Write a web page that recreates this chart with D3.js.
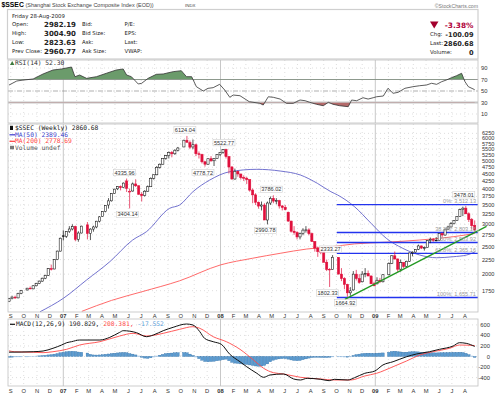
<!DOCTYPE html>
<html>
<head>
<meta charset="utf-8">
<script src="https://cdn.jsdelivr.net/npm/d3@7"></script>
<style>
body { margin: 0; background: #fff; }
svg { display: block; }
</style>
</head>
<body>
<svg id="chart" width="500" height="397"></svg>
<script>
// $SSEC weekly candles with MA, fib retracement, RSI(14) and MACD panels

const firstWeek = "2006-08-28";
const lastWeek = "2009-08-24";
// weeks with no trading (golden week / spring festival)
const closedWeeks = ["2006-10-02", "2007-02-19", "2007-10-01", "2008-09-29", "2009-01-26"];

// weekly open, high, low, close
const ohlc = [
  // 2006 Aug-Sep
  [1600,1650,1595,1640],[1640,1680,1630,1660],[1660,1680,1635,1650],[1650,1720,1645,1712],[1712,1760,1700,1752],
  // Oct
  [1760,1790,1750,1785],[1785,1810,1770,1775],[1775,1830,1770,1820],[1820,1865,1810,1855],
  // Nov
  [1855,1900,1845,1890],[1890,1945,1880,1935],[1935,1990,1920,1980],[1980,2100,1970,2090],
  // Dec
  [2090,2160,2060,2085],[2085,2260,2080,2250],[2250,2420,2240,2410],[2410,2690,2400,2675],
  // 2007 Jan
  [2728,2848,2630,2716],[2716,2830,2680,2821],[2821,2950,2790,2882],[2882,2995,2850,2940],[2940,2960,2610,2650],
  // Feb
  [2650,2830,2600,2790],[2790,2960,2780,2950],[2980,3050,2650,2780],
  // Mar
  [2780,2900,2635,2880],[2880,2960,2820,2930],[2930,3080,2900,3070],[3070,3200,3040,3180],
  // Apr
  [3190,3330,3180,3320],[3320,3500,3300,3490],[3500,3700,3400,3620],[3620,3850,3600,3840],[3840,3990,3830,3980],
  // May
  [3990,4070,3950,4060],[4060,4100,3940,4030],[4030,4200,4010,4180],[4255,4335.96,3890,4000],
  // Jun
  [3890,4000,3404.14,3913],[3920,4200,3900,4150],[4150,4311,4050,4090],[4090,4100,3800,3820],
  // Jul
  [3820,3880,3600,3780],[3780,3950,3750,3914],[3914,4100,3900,4058],[4058,4380,4050,4345],[4345,4480,4300,4471],
  // Aug
  [4471,4800,4450,4750],[4750,4900,4700,4870],[4870,5120,4860,5107],[5107,5250,5050,5218],
  // Sep
  [5218,5400,5100,5356],[5356,5420,5150,5300],[5300,5500,5250,5454],[5454,5600,5400,5552],
  // Oct
  [5600,5940,5590,5914],[5914,6124.04,5800,5818],[5800,5900,5500,5589],[5600,5950,5500,5700],
  // Nov
  [5700,5750,5200,5300],[5300,5400,5100,5270],[5270,5300,4900,4966],[4966,5000,4778.72,4871],
  // Dec
  [4871,5100,4850,5091],[5091,5200,4960,5007],[5007,5100,4800,5100],[5100,5270,5080,5262],[5265,5370,5200,5362],
  // 2008 Jan
  [5362,5500,5300,5485],[5485,5522.77,5100,5180],[5180,5200,4520,4761],[4761,4800,4300,4320],
  // Feb
  [4320,4700,4300,4600],[4600,4620,4400,4500],[4500,4500,4300,4370],[4370,4450,4250,4348],
  // Mar
  [4348,4400,4150,4300],[4300,4300,3900,3950],[3950,4000,3550,3800],[3800,3850,3500,3580],[3580,3600,3400,3470],
  // Apr
  [3470,3600,3350,3500],[3500,3550,3100,3100],[3100,3600,2990.78,3557],[3557,3750,3500,3693],
  // May
  [3693,3786.02,3550,3613],[3613,3700,3520,3624],[3624,3650,3400,3473],[3473,3500,3350,3433],
  // Jun
  [3433,3500,3350,3372],[3300,3320,3050,3074],[3074,3080,2800,2831],[2831,2950,2750,2802],[2802,2830,2650,2703],
  // Jul
  [2703,2800,2650,2780],[2780,2900,2740,2857],[2857,2950,2800,2861],[2861,2900,2740,2775],
  // Aug
  [2775,2800,2600,2605],[2605,2610,2400,2470],[2470,2500,2300,2400],[2400,2450,2350,2397],
  // Sep
  [2397,2400,2200,2202],[2202,2250,2050,2079],[2079,2100,1802.33,2075],[2075,2333.27,2070,2293],
  // Oct
  [2290,2290,2000,2000],[2000,2100,1890,1930],[1930,1950,1770,1840],[1840,1850,1664.92,1719],
  // Nov
  [1719,1800,1678,1747],[1760,2050,1750,2000],[2000,2070,1900,1930],[1930,2000,1850,1871],
  // Dec
  [1880,2050,1870,2000],[2000,2100,1950,2010],[2010,2060,1970,1970],[1970,1980,1850,1850],[1850,1880,1814,1820],
  // 2009 Jan
  [1849,1950,1840,1904],[1904,1940,1860,1880],[1880,2000,1870,1990],
  // Feb
  [1990,2200,1980,2180],[2180,2330,2170,2320],[2320,2402,2250,2261],[2261,2270,2037,2082],
  // Mar
  [2082,2250,2040,2195],[2195,2200,2100,2130],[2130,2230,2120,2220],[2220,2380,2210,2374],[2374,2405,2310,2390],
  // Apr
  [2390,2450,2380,2445],[2445,2540,2430,2513],[2513,2520,2450,2470],[2470,2500,2420,2477],
  // May
  [2480,2630,2480,2625],[2625,2690,2570,2650],[2650,2680,2600,2630],[2630,2700,2610,2632],
  // Jun
  [2632,2790,2630,2780],[2780,2800,2700,2745],[2745,2890,2730,2880],[2880,2960,2860,2930],[2930,3050,2920,3010],
  // Jul
  [3010,3100,2990,3090],[3090,3200,3080,3190],[3190,3400,3180,3372],[3372,3454,3200,3412],
  // Aug
  [3412,3478.01,3250,3260],[3260,3300,3050,3112],[3112,3150,2870,2960],[2970,3090,2823.63,2860.68]
];

const ma50 = [
  ["2006-11-08",1475],["2007-01-01",1644],["2007-02-24",1907],["2007-04-19",2212],["2007-06-11",2636],
  ["2007-07-13",2820],["2007-09-05",3408],["2007-09-28",3500],["2007-10-29",3898],["2007-12-07",4284],
  ["2008-01-23",4583],["2008-03-27",4673],["2008-05-21",4609],["2008-07-08",4462],["2008-08-17",4172],
  ["2008-09-18",3898],["2008-10-04",3795],["2008-11-13",3452],["2008-12-22",3018],["2009-01-27",2673],
  ["2009-03-07",2465],["2009-04-16",2335],["2009-05-26",2284],["2009-07-04",2303],["2009-08-05",2335],
  ["2009-08-24",2389.46]
];

const ma200 = [
  ["2007-02-13",1480],["2007-04-23",1617],["2007-07-03",1735],["2007-09-28",1895],["2008-01-01",2155],
  ["2008-03-17",2275],["2008-05-21",2367],["2008-07-23",2451],["2008-09-18",2495],["2008-11-13",2555],
  ["2009-01-27",2590],["2009-04-16",2636],["2009-07-04",2707],["2009-08-24",2778.69]
];

const rsi = [
  ["2006-08-28",60.4],["2006-09-15",67.4],["2006-09-30",69],["2006-10-23",70.9],["2006-11-15",79.6],
  ["2006-12-08",86.5],["2006-12-28",88.3],["2007-01-20",91.7],["2007-01-28",74.9],["2007-02-08",77.8],
  ["2007-02-24",72],["2007-03-19",74.9],["2007-04-11",80.8],["2007-05-04",86.5],["2007-05-20",88.3],
  ["2007-05-28",77.8],["2007-06-08",74.9],["2007-06-24",62.2],["2007-07-02",63.4],["2007-07-17",72.1],
  ["2007-08-05",79],["2007-08-21",79.6],["2007-09-13",83.6],["2007-10-02",85.3],["2007-10-14",74.9],
  ["2007-10-26",74.9],["2007-11-06",57.5],["2007-11-22",50],["2007-12-03",54.6],["2007-12-15",55.8],
  ["2007-12-30",61.6],["2008-01-11",51.7],["2008-01-23",39],["2008-01-31",43],["2008-02-16",41.8],
  ["2008-03-09",31.4],["2008-04-03",28.6],["2008-04-11",25.6],["2008-04-23",40],["2008-05-05",39],
  ["2008-05-21",36],["2008-06-05",28.6],["2008-06-21",28.6],["2008-07-07",34.3],["2008-07-19",33.1],
  ["2008-07-30",30.3],["2008-08-15",26.9],["2008-08-31",24.4],["2008-09-12",30.3],["2008-09-23",26.9],
  ["2008-10-09",24.4],["2008-10-29",22.7],["2008-11-06",34.3],["2008-11-18",33.1],["2008-12-03",38.3],
  ["2008-12-15",36],["2008-12-27",38.3],["2009-01-04",40],["2009-01-20",41.3],["2009-01-31",54.7],
  ["2009-02-12",46],["2009-02-24",47.7],["2009-03-12",54.7],["2009-03-31",57.5],["2009-04-16",59.2],
  ["2009-05-02",60.4],["2009-05-14",63.4],["2009-05-26",61.6],["2009-06-07",66.2],["2009-06-18",69.1],
  ["2009-06-30",73.1],["2009-07-12",76.6],["2009-07-24",80.8],["2009-08-01",66.2],["2009-08-09",57.5],
  ["2009-08-24",52.3]
];

const macdLine = [
  ["2006-08-28",82],["2006-10-23",91],["2006-11-15",104],["2006-12-08",156],["2006-12-28",218],
  ["2007-01-09",262],["2007-01-20",281],["2007-02-08",313],["2007-03-27",313],["2007-04-19",364],
  ["2007-05-12",459],["2007-05-20",490],["2007-06-20",452],["2007-07-13",376],["2007-07-29",408],
  ["2007-08-21",490],["2007-09-13",554],["2007-10-14",617],["2007-10-29",598],["2007-11-14",471],
  ["2007-11-25",345],["2007-12-15",281],["2008-01-03",231],["2008-01-23",42],["2008-02-16",-99],
  ["2008-03-03",-194],["2008-03-27",-319],["2008-04-12",-395],["2008-04-27",-351],["2008-05-29",-332],
  ["2008-06-22",-427],["2008-07-08",-446],["2008-07-24",-414],["2008-08-25",-433],["2008-09-14",-459],
  ["2008-09-26",-433],["2008-10-28",-446],["2008-11-13",-402],["2008-12-07",-319],["2008-12-31",-275],
  ["2009-01-19",-161],["2009-02-12",-99],["2009-03-16",-4],["2009-04-08",47],["2009-05-09",91],
  ["2009-06-02",137],["2009-07-04",199],["2009-07-19",262],["2009-08-04",250],["2009-08-24",190.829]
];

const signalLine = [
  ["2006-08-28",108],["2006-09-10",90],["2006-10-23",80],["2006-11-15",73],["2006-12-08",91],
  ["2007-01-09",137],["2007-02-08",218],["2007-03-27",281],["2007-05-12",389],["2007-06-12",440],
  ["2007-07-13",389],["2007-08-21",440],["2007-09-28",516],["2007-10-29",566],["2007-11-14",535],
  ["2007-12-15",376],["2008-01-15",281],["2008-02-16",137],["2008-03-19",-66],["2008-04-12",-224],
  ["2008-05-05",-307],["2008-05-29",-332],["2008-07-08",-395],["2008-08-25",-427],["2008-09-26",-446],
  ["2008-11-04",-446],["2008-12-07",-370],["2009-01-04",-319],["2009-02-12",-194],["2009-03-16",-85],
  ["2009-04-16",28],["2009-05-17",91],["2009-06-26",156],["2009-07-19",218],["2009-08-24",208.381]
];

// MACD histogram, one value per weekly bar
const macdHist = [
  -15,-12,-8,-5,-3, 0,3,5,8, 12,18,22,30, 35,45,55,70,
  80,90,98,100,95, 85,80,65, 40,30,28,30, 35,42,48,55,62, 68,72,75,70, 55,45,30,10,
  -15,-30,-35,-25,-10, 10,25,40,55, 62,65,70,72, 75,70,45,20, -10,-40,-70,-95, -100,-95,-90,-80,-70,
  -60,-50,-80,-110, -125,-130,-140,-145, -150,-160,-170,-180,-185, -180,-170,-140,-100, -70,-55,-45,-40,
  -40,-50,-65,-75,-80, -75,-60,-45,-30, -20,-15,-15,-18, -20,-20,-15,-5, -5,-8,-10,-12, -5,20,35,45,
  55,60,62,60,58,
  62,65,68, 80,95,100,90, 85,80,82,88,90, 90,88,82,78, 75,72,70,68, 70,72,72,74,76, 78,78,80,75,
  60,35,10,-17.552
];

// high / low call-outs on the price chart
const priceLabels = [
  ["2007-05-28",4335.96,"above"],["2007-06-04",3404.14,"below"],["2007-10-15",6124.04,"above"],
  ["2007-11-26",4778.72,"below"],["2008-01-14",5522.77,"above"],["2008-04-21",2990.78,"below"],
  ["2008-05-05",3786.02,"above"],["2008-09-15",1802.33,"below"],["2008-09-22",2333.27,"above"],
  ["2008-10-27",1664.92,"below"],["2009-08-03",3478.01,"high"]
];

const fibLevels = [
  ["0%: 3,512.13",3512.13],["38.2%: 2,803.16",2803.16],["50%: 2,583.92",2583.92],
  ["61.8%: 2,365.16",2365.16],["100%: 1,655.71",1655.71]
];
const fibStart = "2008-10-02";
const trendLine = [["2008-10-21",1631],["2009-09-21",2946]];

const priceTicks = [1750,2000,2250,2500,2750,3000,3250,3500,3750,4000,4250,4500,4750,5000,5250,5500,5750,6000,6250];
const rsiTicks = [10,30,50,70,90];
const macdTicks = [-400,-200,0,200,400,600];

const quoteRows = [
  ["Open:","2982.19","Bid:","P/E:"],
  ["High:","3004.90","Bid Size:","EPS:"],
  ["Low:","2823.63","Ask:","Last:"],
  ["Prev Close:","2960.77","Ask Size:","VWAP:"]
];
const changeRows = [["Chg:","-100.09"],["Last:","2860.68"],["Volume:","0"]];

// ---------------------------------------------------------------
const svg = d3.select("#chart");
const parse = d3.timeParse("%Y-%m-%d");
const fmt = d3.timeFormat("%Y-%m-%d");

const RED = "#e0103c";
const MONO = "'DejaVu Sans Mono', monospace";
const SANS = "'Liberation Sans', Arial, sans-serif";
const VERD = "'DejaVu Sans', Verdana, sans-serif";

const L = 8, R = 478;
const P = {top: 124, bottom: 312};
const RS = {top: 60, bottom: 123};
const MC = {top: 319, bottom: 386};

const x = d3.scaleTime()
  .domain([new Date(2007,0,1), new Date(2008,0,1), new Date(2009,0,1)])
  .range([63.3, 220.5, 375.3]);
const y = d3.scaleLog().domain([1472, 6744]).range([P.bottom, P.top]);
const yR = d3.scaleLinear().domain([0, 100]).range([119.75, 62.25]);
const yM = d3.scaleLinear().domain([-560, 712]).range([MC.bottom, MC.top]);

const closed = new Set(closedWeeks);
const weeks = d3.timeMonday.range(parse(firstWeek), d3.timeDay.offset(parse(lastWeek), 1))
  .filter(d => !closed.has(fmt(d)));
const n = Math.min(weeks.length, ohlc.length);
const bars = d3.range(n).map(i => ({date: weeks[i], o: ohlc[i][0], h: ohlc[i][1], l: ohlc[i][2], c: ohlc[i][3]}));

const defs = svg.append("defs");
function clip(id, x0, y0, x1, y1) {
  defs.append("clipPath").attr("id", id).append("rect")
    .attr("x", x0).attr("y", y0).attr("width", x1 - x0).attr("height", y1 - y0);
}
clip("cMain", L, P.top, R, P.bottom);
clip("cRsi", L, RS.top, R, RS.bottom);
clip("cRsiHi", L, RS.top, R, yR(70));
clip("cRsiLo", L, yR(30), R, RS.bottom);
clip("cMacd", L, MC.top, R, MC.bottom);

// ---------- header ----------
svg.append("text").attr("x", 1.5).attr("y", 7.2)
  .attr("font-family", SANS).attr("font-weight", "bold").attr("font-size", 6.8).text("$SSEC");
svg.append("text").attr("x", 25.5).attr("y", 7)
  .attr("font-family", SANS).attr("font-size", 5.5).attr("fill", "#444")
  .text("(Shanghai Stock Exchange Composite Index (EOD))");
svg.append("text").attr("x", 185).attr("y", 7)
  .attr("font-family", SANS).attr("font-size", 4.4).attr("fill", "#444").text("INDX");
svg.append("text").attr("x", 478).attr("y", 7.5).attr("text-anchor", "end")
  .attr("font-family", SANS).attr("font-size", 5.2).attr("fill", "#777").text("\u00a9StockCharts.com");

svg.append("rect").attr("x", 7.5).attr("y", 9.5).attr("width", 470.5).attr("height", 49.5)
  .attr("fill", "#fff").attr("stroke", "#cfcfcf").attr("stroke-width", 1.2);

svg.append("text").attr("x", 12).attr("y", 17.6)
  .attr("font-family", VERD).attr("font-size", 5.4).attr("fill", "#222").text("Friday  28-Aug-2009");

const rowY = [24.3, 33, 42, 51];
quoteRows.forEach((r, i) => {
  const g = svg.append("g").attr("font-family", VERD).attr("fill", "#222");
  g.append("text").attr("x", 12).attr("y", rowY[i] + 2).attr("font-size", 5.4).text(r[0]);
  g.append("text").attr("x", 76).attr("y", rowY[i] + 2.6).attr("text-anchor", "end")
    .attr("font-size", 7).attr("font-weight", "bold").text(r[1]);
  g.append("text").attr("x", 82).attr("y", rowY[i] + 2).attr("font-size", 5.4).text(r[2]);
  g.append("text").attr("x", 124.5).attr("y", rowY[i] + 2).attr("font-size", 5.4).text(r[3]);
});

svg.append("path").attr("d", "M430,21.6 L438.5,21.6 L434.2,28.4 Z").attr("fill", "#a3002d");
svg.append("text").attr("x", 473.5).attr("y", 27.8).attr("text-anchor", "end")
  .attr("font-family", VERD).attr("font-weight", "bold").attr("font-size", 7.4)
  .attr("fill", "#b0003a").text("-3.38%");
const chY = [34, 43.3, 52.3];
changeRows.forEach((r, i) => {
  svg.append("text").attr("x", 430).attr("y", chY[i] + 2).attr("font-family", VERD)
    .attr("font-size", 5.4).attr("fill", "#222").text(r[0]);
  svg.append("text").attr("x", 473.5).attr("y", chY[i] + 2.5).attr("text-anchor", "end")
    .attr("font-family", VERD).attr("font-weight", "bold").attr("font-size", 6.6)
    .attr("fill", "#222").text(r[1]);
});

// ---------- grids ----------
const months = d3.timeMonth.range(new Date(2006, 8, 1), new Date(2009, 8, 1));
function panelGrid(top, bottom) {
  const g = svg.append("g");
  months.forEach(m => {
    const xx = x(m);
    if (m.getMonth() === 0) {
      g.append("line").attr("x1", xx).attr("x2", xx).attr("y1", top).attr("y2", bottom)
        .attr("stroke", "#c8c8c8").attr("stroke-width", 1);
    } else {
      g.append("line").attr("x1", xx).attr("x2", xx).attr("y1", top).attr("y2", bottom)
        .attr("stroke", "#c4c4c4").attr("stroke-width", 0.7).attr("stroke-dasharray", "0.8,3.2");
    }
  });
  return g;
}
function hDots(g, yy) {
  g.append("line").attr("x1", L).attr("x2", R).attr("y1", yy).attr("y2", yy)
    .attr("stroke", "#c4c4c4").attr("stroke-width", 0.7).attr("stroke-dasharray", "0.8,3.2");
}

// ---------- RSI panel ----------
const gR = panelGrid(RS.top, RS.bottom);
[90, 10].forEach(v => hDots(gR, yR(v)));
svg.append("line").attr("x1", L).attr("x2", R).attr("y1", yR(70)).attr("y2", yR(70))
  .attr("stroke", "#8c8c8c").attr("stroke-width", 0.9);
svg.append("line").attr("x1", L).attr("x2", R).attr("y1", yR(30)).attr("y2", yR(30))
  .attr("stroke", "#c6c6c6").attr("stroke-width", 1.8);
svg.append("line").attr("x1", L).attr("x2", R).attr("y1", yR(50)).attr("y2", yR(50))
  .attr("stroke", "#8c8c8c").attr("stroke-width", 0.7).attr("stroke-dasharray", "5,1.5,1,1.5");

const rx = d => x(parse(d[0]));
svg.append("path").datum(rsi).attr("clip-path", "url(#cRsiHi)")
  .attr("d", d3.area().x(rx).y0(yR(70)).y1(d => yR(d[1])))
  .attr("fill", "#6b9b6b").attr("stroke", "none");
svg.append("path").datum(rsi).attr("clip-path", "url(#cRsiLo)")
  .attr("d", d3.area().x(rx).y0(yR(30)).y1(d => yR(d[1])))
  .attr("fill", "#b46a6a").attr("stroke", "none");
svg.append("path").datum(rsi).attr("clip-path", "url(#cRsi)")
  .attr("d", d3.line().x(rx).y(d => yR(d[1])))
  .attr("fill", "none").attr("stroke", "#333").attr("stroke-width", 0.8);
svg.append("rect").attr("x", L).attr("y", RS.top).attr("width", R - L).attr("height", RS.bottom - RS.top)
  .attr("fill", "none").attr("stroke", "#c0c0c0").attr("stroke-width", 0.8);
svg.append("path").attr("d", "M10,65 L12.2,61 L14.4,65 Z").attr("fill", "#3d7a3d");
svg.append("text").attr("x", 15).attr("y", 64.8).attr("font-family", MONO).attr("font-size", 6.3)
  .attr("fill", "#333").text("RSI(14) 52.30");
rsiTicks.forEach(v => {
  svg.append("text").attr("x", 487.5).attr("y", yR(v) + 2).attr("text-anchor", "end")
    .attr("font-family", SANS).attr("font-size", 5.8).attr("fill", "#333").text(v);
});

// ---------- price panel ----------
const gP = panelGrid(P.top, P.bottom);
priceTicks.forEach(v => hDots(gP, y(v)));

const lineDate = d3.line().x(d => x(parse(d[0]))).y(d => y(d[1])).curve(d3.curveMonotoneX);
svg.append("path").datum(ma200).attr("clip-path", "url(#cMain)").attr("d", lineDate)
  .attr("fill", "none").attr("stroke", "#ff5a5a").attr("stroke-width", 0.9);
svg.append("path").datum(ma50).attr("clip-path", "url(#cMain)").attr("d", lineDate)
  .attr("fill", "none").attr("stroke", "#6262c8").attr("stroke-width", 0.9);

// fib retracement lines
const fx0 = x(parse(fibStart));
fibLevels.forEach(f => {
  svg.append("line").attr("x1", fx0).attr("x2", R).attr("y1", y(f[1])).attr("y2", y(f[1]))
    .attr("stroke", "#2233ee").attr("stroke-width", 1.4);
});

// candles
const gC = svg.append("g").attr("clip-path", "url(#cMain)");
bars.forEach((b, i) => {
  const prev = i ? bars[i - 1].c : b.o;
  const col = b.c < prev ? RED : "#111";
  const filled = b.c < b.o;
  const cx = x(b.date);
  gC.append("line").attr("x1", cx).attr("x2", cx).attr("y1", y(b.h)).attr("y2", y(b.l))
    .attr("stroke", col).attr("stroke-width", 0.7);
  const t = y(Math.max(b.o, b.c)), bt = y(Math.min(b.o, b.c));
  gC.append("rect").attr("x", cx - 1.1).attr("width", 2.2).attr("y", t)
    .attr("height", Math.max(0.6, bt - t))
    .attr("fill", filled ? col : "#fff").attr("stroke", col).attr("stroke-width", 0.55);
});

// trend line
svg.append("line")
  .attr("x1", x(parse(trendLine[0][0]))).attr("y1", y(trendLine[0][1]))
  .attr("x2", x(parse(trendLine[1][0]))).attr("y2", y(trendLine[1][1]))
  .attr("stroke", "#229922").attr("stroke-width", 1.3);

// fib texts
fibLevels.forEach(f => {
  svg.append("text").attr("x", 476).attr("y", y(f[1]) - 1.6).attr("text-anchor", "end")
    .attr("font-family", SANS).attr("font-size", 5.6).attr("fill", "#9a9a9a").text(f[0]);
});

// call-out boxes
priceLabels.forEach(p => {
  const cx = x(parse(p[0])) - 2;
  const off = {above: -6, below: 6, high: -11}[p[2]];
  const cy = y(p[1]) + off;
  const txt = p[1].toFixed(2);
  const w = 22, h = 6.4;
  svg.append("rect").attr("x", cx - w / 2).attr("y", cy - h / 2).attr("width", w).attr("height", h)
    .attr("fill", "#fff").attr("fill-opacity", 0.9).attr("stroke", "#c8c8c8").attr("stroke-width", 0.5);
  svg.append("text").attr("x", cx).attr("y", cy + 2).attr("text-anchor", "middle")
    .attr("font-family", SANS).attr("font-size", 5.6).attr("fill", "#333").text(txt);
});

svg.append("rect").attr("x", L).attr("y", P.top).attr("width", R - L).attr("height", P.bottom - P.top)
  .attr("fill", "none").attr("stroke", "#c0c0c0").attr("stroke-width", 0.8);

priceTicks.forEach(v => {
  svg.append("text").attr("x", 482).attr("y", y(v) + 2).attr("font-family", SANS)
    .attr("font-size", 5.6).attr("fill", "#333").text(v);
});

// price legend
const legY = [128.3, 134.8, 141.3, 147.8];
svg.append("rect").attr("x", 10).attr("y", 125.8).attr("width", 3).attr("height", 4.2).attr("fill", "#111");
svg.append("line").attr("x1", 9.5).attr("x2", 15).attr("y1", legY[1]).attr("y2", legY[1])
  .attr("stroke", "#3a3acc").attr("stroke-width", 1.2);
svg.append("line").attr("x1", 9.5).attr("x2", 15).attr("y1", legY[2]).attr("y2", legY[2])
  .attr("stroke", "#ff3b3b").attr("stroke-width", 1.2);
svg.append("rect").attr("x", 10).attr("y", legY[3] - 2).attr("width", 4).attr("height", 3.5).attr("fill", "#777");
const legTxt = [["$SSEC (Weekly) 2860.68", "#111"], ["MA(50) 2389.46", "#3a3acc"],
                ["MA(200) 2778.69", "#ff3b3b"], ["Volume undef", "#555"]];
legTxt.forEach((t, i) => {
  svg.append("text").attr("x", 15).attr("y", legY[i] + 2.1).attr("font-family", MONO)
    .attr("font-size", 6.3).attr("fill", t[1]).text(t[0]);
});

// ---------- month axes ----------
function monthAxis(yy) {
  months.forEach(m => {
    const jan = m.getMonth() === 0;
    svg.append("text").attr("x", x(m)).attr("y", yy).attr("text-anchor", "middle")
      .attr("font-family", SANS).attr("font-size", 5.8)
      .attr("font-weight", jan ? "bold" : "normal").attr("fill", "#333")
      .text(jan ? d3.timeFormat("%y")(m) : d3.timeFormat("%b")(m)[0]);
  });
}
monthAxis(317.6);
monthAxis(392.8);

// ---------- MACD panel ----------
const gM = panelGrid(MC.top, MC.bottom);
macdTicks.forEach(v => hDots(gM, yM(v)));
const gH = svg.append("g").attr("clip-path", "url(#cMacd)");
bars.forEach((b, i) => {
  const v = macdHist[i];
  if (v === undefined) return;
  const cx = x(b.date);
  const t = Math.min(yM(v), yM(0)), h = Math.max(0.4, Math.abs(yM(v) - yM(0)));
  gH.append("rect").attr("x", cx - 1.3).attr("width", 2.6).attr("y", t).attr("height", h)
    .attr("fill", Math.abs(v) < 12 ? "#a9c9e6" : "#5b9bd0")
    .attr("stroke", Math.abs(v) < 12 ? "#8db6dc" : "#2d6da6").attr("stroke-width", 0.35);
});
const lineM = d3.line().x(d => x(parse(d[0]))).y(d => yM(d[1])).curve(d3.curveMonotoneX);
svg.append("path").datum(signalLine).attr("clip-path", "url(#cMacd)").attr("d", lineM)
  .attr("fill", "none").attr("stroke", "#ff4a4a").attr("stroke-width", 0.9);
svg.append("path").datum(macdLine).attr("clip-path", "url(#cMacd)").attr("d", lineM)
  .attr("fill", "none").attr("stroke", "#111").attr("stroke-width", 1);
svg.append("rect").attr("x", L).attr("y", MC.top).attr("width", R - L).attr("height", MC.bottom - MC.top)
  .attr("fill", "none").attr("stroke", "#c0c0c0").attr("stroke-width", 0.8);
macdTicks.forEach(v => {
  svg.append("text").attr("x", 490).attr("y", yM(v) + 2).attr("text-anchor", "end")
    .attr("font-family", SANS).attr("font-size", 5.8).attr("fill", "#333").text(v);
});
svg.append("line").attr("x1", 10).attr("x2", 15).attr("y1", 324.3).attr("y2", 324.3)
  .attr("stroke", "#111").attr("stroke-width", 1.2);
const mt = svg.append("text").attr("x", 16).attr("y", 326.4).attr("font-family", MONO).attr("font-size", 6.3);
mt.append("tspan").attr("fill", "#222").text("MACD(12,26,9) 190.829, ");
mt.append("tspan").attr("fill", "#ff4a4a").text("208.381, ");
mt.append("tspan").attr("fill", "#5aa0d8").text("-17.552");
</script>
</body>
</html>
